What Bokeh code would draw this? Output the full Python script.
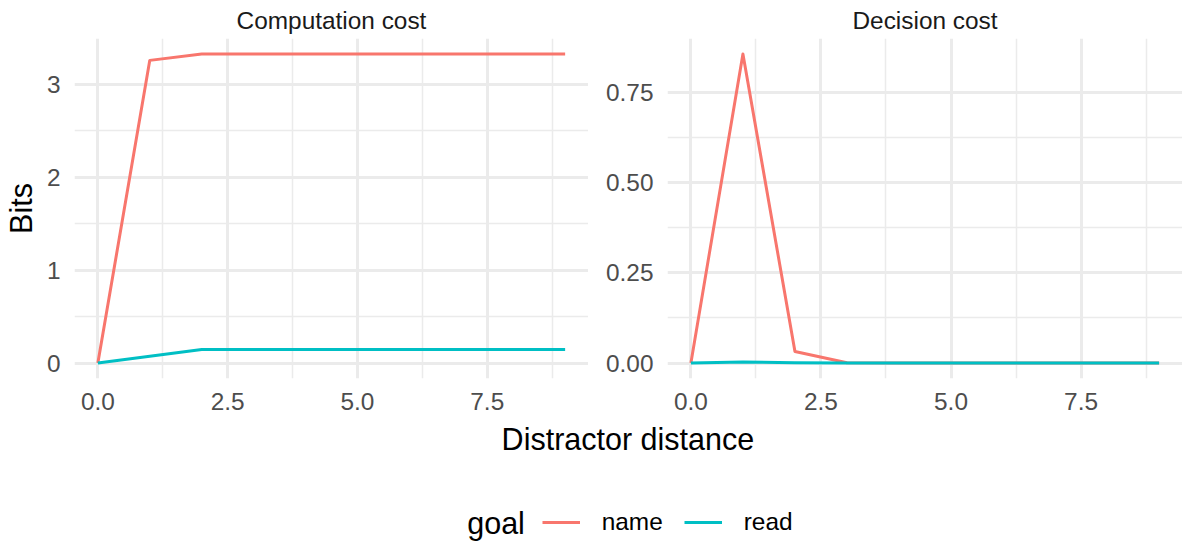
import numpy as np
from bokeh.plotting import figure
from bokeh.layouts import column, row
from bokeh.models import (Range1d, FixedTicker, NumeralTickFormatter, Legend, LegendItem)
from bokeh.core.properties import value
from bokeh.embed import file_html
from bokeh.resources import INLINE

# ---------------- data ----------------
distance = [0, 1, 2, 3, 4, 5, 6, 7, 8, 9]
comp_name = [0.0, 3.257, 3.326, 3.326, 3.326, 3.326, 3.326, 3.326, 3.326, 3.326]
comp_read = [0.0, 0.073, 0.146, 0.146, 0.146, 0.146, 0.146, 0.146, 0.146, 0.147]
dec_name = [0.0, 0.856, 0.032, 0.001, 0.0, 0.0, 0.0, 0.0, 0.0, 0.0]
dec_read = [0.0, 0.003, 0.0005, 0.0, 0.0, 0.0, 0.0, 0.0, 0.0, 0.0]
goals = ["name", "read"]
colors = ["#F8766D", "#00BFC4"]
panel_titles = ["Computation cost", "Decision cost"]
x_ticks = [0, 2.5, 5, 7.5]
x_minor = [1.25, 3.75, 6.25, 8.75]
y_ticks_comp = [0, 1, 2, 3]
y_minor_comp = [0.5, 1.5, 2.5]
y_ticks_dec = [0, 0.25, 0.5, 0.75]
y_minor_dec = [0.125, 0.375, 0.625]

FONT = "Liberation Sans"
TICK = "24.4px"
TITLE = "30.5px"
GRID = "#EBEBEB"
H_TOP, H_FRAME, H_BOTTOM = 37, 341, 42
PANEL_H = H_TOP + H_FRAME + H_BOTTOM
FOOT_H = 124


def pad(lo, hi, f=0.05):
    d = (hi - lo) * f
    return lo - d, hi + d


def make_panel(title, series, yt, ym, yfmt, width, border_left, ylabel=None):
    xlo, xhi = pad(min(distance), max(distance))
    allv = [v for s in series for v in s]
    ylo, yhi = pad(min(allv), max(allv))
    p = figure(width=width, height=PANEL_H, output_backend="svg", toolbar_location=None,
               x_range=Range1d(xlo, xhi), y_range=Range1d(ylo, yhi),
               min_border_left=border_left, min_border_right=0,
               min_border_top=H_TOP, min_border_bottom=H_BOTTOM)
    p.outline_line_color = None
    p.background_fill_color = "white"
    p.border_fill_color = "white"
    p.title.text = title
    p.title.align = "center"
    p.title.text_font = FONT
    p.title.text_font_size = TICK
    p.title.text_font_style = "normal"
    p.title.text_color = "#1A1A1A"
    p.title.standoff = 9
    for s, c in zip(series, colors):
        p.line(distance, s, line_color=c, line_width=3, line_join="round")
    p.xaxis.ticker = FixedTicker(ticks=x_ticks, minor_ticks=x_minor)
    p.yaxis.ticker = FixedTicker(ticks=yt, minor_ticks=ym)
    p.xaxis.formatter = NumeralTickFormatter(format="0.0")
    p.yaxis.formatter = NumeralTickFormatter(format=yfmt)
    for ax in (p.xaxis[0], p.yaxis[0]):
        ax.axis_line_color = None
        ax.major_tick_line_color = None
        ax.minor_tick_line_color = None
        ax.major_tick_out = 0
        ax.minor_tick_out = 0
        ax.major_label_text_font = FONT
        ax.major_label_text_font_size = TICK
        ax.major_label_text_color = "#4D4D4D"
    p.xaxis.major_label_standoff = 14
    p.yaxis.major_label_standoff = 14
    if ylabel:
        p.yaxis.axis_label = ylabel
        p.yaxis.axis_label_text_font = FONT
        p.yaxis.axis_label_text_font_size = TITLE
        p.yaxis.axis_label_text_font_style = "normal"
        p.yaxis.axis_label_text_color = "black"
        p.yaxis.axis_label_standoff = 6
    for g in (p.xgrid[0], p.ygrid[0]):
        g.grid_line_color = GRID
        g.grid_line_width = 3
        g.minor_grid_line_color = GRID
        g.minor_grid_line_width = 1.5
    return p


p1 = make_panel(panel_titles[0], [comp_name, comp_read], y_ticks_comp, y_minor_comp,
                "0", 588, 73, ylabel="Bits")
p2 = make_panel(panel_titles[1], [dec_name, dec_read], y_ticks_dec, y_minor_dec,
                "0.00", 594, 79)

# bottom strip: shared x label + legend (coordinates in pixels of this strip)
p3 = figure(width=1182, height=FOOT_H, output_backend="svg", toolbar_location=None,
            x_range=Range1d(0, 1182), y_range=Range1d(FOOT_H, 0),
            min_border=0, x_axis_type=None, y_axis_type=None)
p3.outline_line_color = None
p3.xgrid.visible = False
p3.ygrid.visible = False
p3.text(x=[627.4], y=[1], text=["Distractor distance"], text_align="center",
        text_baseline="top", text_font=value(FONT), text_font_size=TITLE,
        text_color="black")
p3.text(x=[466.7], y=[102], text=["goal"], text_align="left",
        text_baseline="middle", text_font=value(FONT), text_font_size=TITLE,
        text_color="black")
items = []
for g, c in zip(goals, colors):
    r = p3.line(x=np.array([np.nan]), y=np.array([np.nan]), line_color=c, line_width=3)
    items.append(LegendItem(label=g, renderers=[r]))
leg = Legend(items=items, orientation="horizontal", location=(541.7, 8.3),
             padding=0, margin=0, spacing=21, label_standoff=22,
             glyph_width=38, glyph_height=24, border_line_color=None,
             background_fill_alpha=0, label_text_font=FONT,
             label_text_font_size=TICK, label_text_color="black")
p3.add_layout(leg)

layout = column(row(p1, p2), p3)
open("out.html", "w").write(file_html(layout, INLINE))
